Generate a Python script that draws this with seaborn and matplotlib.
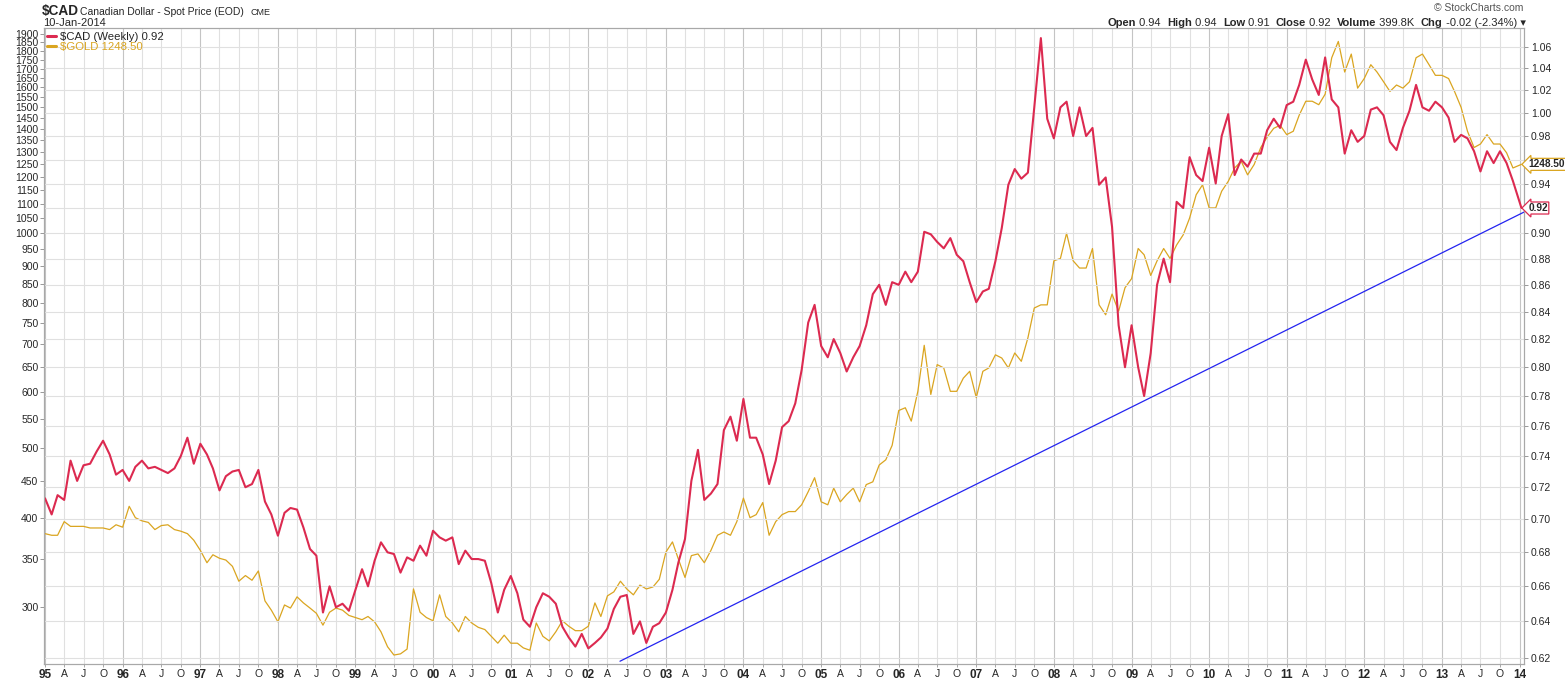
import matplotlib
matplotlib.use("Agg")
import matplotlib.pyplot as plt
import matplotlib.transforms as mtransforms
from matplotlib.lines import Line2D
from matplotlib.ticker import FixedLocator, FuncFormatter, NullLocator
import pandas as pd
import seaborn as sns

# month-start closes (Jan 1995 .. Dec 2013), then the last bar
months = list(pd.date_range("1995-01-01", "2013-12-01", freq="MS")) + [pd.Timestamp("2014-01-10")]

cad_close = [
    0.713, 0.703, 0.715, 0.712, 0.737, 0.724, 0.734, 0.735, 0.743, 0.750, 0.741, 0.728,  # 1995
    0.731, 0.724, 0.733, 0.737, 0.732, 0.733, 0.731, 0.729, 0.732, 0.740, 0.752, 0.735,  # 1996
    0.748, 0.741, 0.732, 0.718, 0.727, 0.730, 0.731, 0.720, 0.722, 0.731, 0.711, 0.703,  # 1997
    0.690, 0.704, 0.707, 0.706, 0.695, 0.682, 0.678, 0.645, 0.660, 0.648, 0.650, 0.646,  # 1998
    0.658, 0.670, 0.660, 0.675, 0.686, 0.680, 0.679, 0.668, 0.677, 0.675, 0.684, 0.678,  # 1999
    0.693, 0.689, 0.687, 0.689, 0.673, 0.681, 0.676, 0.676, 0.675, 0.662, 0.645, 0.658,  # 2000
    0.666, 0.656, 0.641, 0.637, 0.648, 0.656, 0.654, 0.650, 0.637, 0.631, 0.626, 0.633,  # 2001
    0.625, 0.628, 0.631, 0.636, 0.647, 0.654, 0.655, 0.633, 0.640, 0.628, 0.637, 0.639,  # 2002
    0.645, 0.658, 0.674, 0.688, 0.724, 0.744, 0.712, 0.716, 0.722, 0.757, 0.766, 0.750,  # 2003
    0.778, 0.752, 0.752, 0.741, 0.722, 0.737, 0.759, 0.763, 0.775, 0.798, 0.832, 0.845,  # 2004
    0.815, 0.807, 0.820, 0.810, 0.797, 0.807, 0.815, 0.830, 0.853, 0.860, 0.845, 0.862,  # 2005
    0.860, 0.870, 0.862, 0.870, 0.901, 0.899, 0.893, 0.888, 0.896, 0.883, 0.878, 0.862,  # 2006
    0.847, 0.855, 0.857, 0.878, 0.904, 0.939, 0.952, 0.944, 0.949, 1.005, 1.068, 0.995,  # 2007
    0.978, 1.005, 1.010, 0.980, 1.005, 0.980, 0.987, 0.939, 0.945, 0.905, 0.830, 0.800,  # 2008
    0.830, 0.800, 0.780, 0.810, 0.860, 0.880, 0.862, 0.925, 0.920, 0.962, 0.947, 0.942,  # 2009
    0.970, 0.940, 0.980, 0.999, 0.947, 0.960, 0.954, 0.965, 0.965, 0.985, 0.995, 0.987,  # 2010
    1.007, 1.010, 1.025, 1.048, 1.030, 1.016, 1.050, 1.012, 1.005, 0.965, 0.985, 0.975,  # 2011
    0.980, 1.003, 1.005, 0.998, 0.975, 0.968, 0.987, 1.002, 1.025, 1.005, 1.002, 1.010,  # 2012
    1.005, 0.996, 0.975, 0.981, 0.978, 0.967, 0.950, 0.967, 0.957, 0.967, 0.957, 0.942,  # 2013
    0.920,
]

gold_close = [
    380, 378, 378, 395, 389, 389, 389, 387, 387, 387, 385, 391,  # 1995
    388, 415, 400, 396, 394, 385, 390, 391, 385, 383, 380, 372,  # 1996
    360, 346, 355, 351, 349, 342, 326, 332, 327, 337, 306, 297,  # 1997
    286, 302, 299, 310, 304, 299, 294, 283, 295, 299, 297, 292,  # 1998
    290, 288, 291, 286, 277, 264, 257, 258, 262, 318, 295, 290,  # 1999
    287, 312, 291, 285, 277, 291, 285, 281, 279, 273, 267, 274,  # 2000
    267, 267, 263, 261, 285, 273, 269, 277, 287, 282, 278, 278,  # 2001
    282, 304, 291, 311, 315, 326, 318, 312, 322, 318, 320, 328,  # 2002
    358, 370, 350, 330, 354, 356, 346, 360, 378, 382, 378, 395,  # 2003
    426, 400, 404, 420, 378, 395, 404, 408, 408, 417, 435, 455,  # 2004
    421, 417, 440, 421, 431, 440, 421, 445, 449, 474, 482, 505,  # 2005
    565, 570, 546, 601, 697, 595, 655, 648, 601, 601, 627, 641,  # 2006
    589, 641, 648, 676, 669, 648, 680, 662, 714, 786, 794, 794,  # 2007
    915, 922, 1000, 915, 894, 894, 952, 794, 769, 822, 778, 839,  # 2008
    864, 952, 933, 873, 915, 952, 922, 963, 995, 1050, 1132, 1169,  # 2009
    1085, 1085, 1145, 1182, 1234, 1261, 1207, 1248, 1318, 1363, 1402, 1416,  # 2010
    1374, 1389, 1463, 1530, 1530, 1513, 1565, 1760, 1855, 1681, 1781, 1596,  # 2011
    1646, 1721, 1681, 1629, 1579, 1612, 1596, 1629, 1760, 1781, 1721, 1663,  # 2012
    1663, 1646, 1579, 1500, 1389, 1318, 1333, 1374, 1333, 1333, 1296, 1234,  # 2013
    1248.5,
]

# support line drawn on the $CAD scale
trend_dates = [pd.Timestamp("2002-05-30"), pd.Timestamp("2014-01-22")]
trend_values = [0.618, 0.9167]

gold_ticks = list(range(300, 1901, 50))
cad_ticks = [round(0.62 + 0.02 * i, 2) for i in range(23)]
cad_hidden = {0.92, 0.96}  # these labels sit under the last-value tags
year_ticks = pd.date_range("1995-01-01", "2014-01-01", freq="YS")
quarter_ticks = [d for d in pd.date_range("1995-01-01", "2013-12-31", freq="QS") if d.month != 1]
quarter_names = {4: "A", 7: "J", 10: "O"}

RED = "#dc2a50"
GOLD = "#daa520"
BLUE = "#2424f0"
GRID = "#e0e0e0"

sns.set_style("white")
plt.rcParams["font.family"] = ["Liberation Sans", "DejaVu Sans"]

W, H = 1565, 681
fig = plt.figure(figsize=(W / 100, H / 100), dpi=100)
ax = fig.add_axes([44 / W, 17 / H, 1480 / W, 636 / H])
ax2 = ax.twinx()

df = pd.DataFrame({"date": months, "cad": cad_close, "gold": gold_close})
trend = pd.DataFrame({"date": trend_dates, "cad": trend_values})

# gold on the left log axis
sns.lineplot(data=df, x="date", y="gold", ax=ax, color=GOLD, linewidth=0.9, legend=False)
ax.set_yscale("log")
ax.set_ylim(249.7, 1937)
ax.yaxis.set_major_locator(FixedLocator(gold_ticks))
ax.yaxis.set_minor_locator(NullLocator())
ax.yaxis.set_major_formatter(FuncFormatter(lambda v, p: f"{v:.0f}"))
ax.set_xlabel("")
ax.set_ylabel("")

# CAD on the right log axis
sns.lineplot(data=df, x="date", y="cad", ax=ax2, color=RED, linewidth=1.5, legend=False)
sns.lineplot(data=trend, x="date", y="cad", ax=ax2, color=BLUE, linewidth=0.9, legend=False)
ax2.set_yscale("log")
ax2.set_ylim(0.6165, 1.0775)
ax2.yaxis.set_major_locator(FixedLocator(cad_ticks))
ax2.yaxis.set_minor_locator(NullLocator())
ax2.yaxis.set_major_formatter(
    FuncFormatter(lambda v, p: "" if round(v, 2) in cad_hidden else f"{v:.2f}"))
ax2.set_ylabel("")
ax2.grid(axis="y", color=GRID, linewidth=0.8)
ax2.set_axisbelow(True)

ax.set_xlim(pd.Timestamp("1994-12-27"), pd.Timestamp("2014-01-22"))
ax.set_xticks(year_ticks)
ax.set_xticklabels([f"{d.year % 100:02d}" for d in year_ticks], fontweight="bold", fontsize=8.5)
ax.set_xticks(quarter_ticks, minor=True)
ax.set_xticklabels([quarter_names[d.month] for d in quarter_ticks], minor=True, fontsize=7.5)
ax.grid(axis="x", which="major", color="#c4c4c4", linewidth=0.8)
ax.grid(axis="x", which="minor", color=GRID, linewidth=0.8)
ax.tick_params(axis="x", which="both", bottom=True, length=2, width=0.6, color="#999999", pad=1.5)
ax.tick_params(axis="y", left=True, length=3, width=0.6, color="#888888", labelsize=7.5, pad=1)
ax2.tick_params(axis="y", right=True, length=3, width=0.6, color="#888888", labelsize=7.5, pad=2)

for a in (ax, ax2):
    for s in a.spines.values():
        s.set_color("#a8a8a8")
        s.set_linewidth(0.8)

# legend in the upper left corner
handles = [Line2D([], [], color=RED, linewidth=2.2), Line2D([], [], color=GOLD, linewidth=2.2)]
leg = ax2.legend(handles, [r"\$CAD (Weekly) 0.92", r"\$GOLD 1248.50"], loc="upper left",
                 bbox_to_anchor=(0, 0.998), frameon=False, fontsize=8.2, handlelength=0.8,
                 handletextpad=0.35, labelspacing=0.0, borderaxespad=0.15, borderpad=0.1)
leg.get_texts()[1].set_color(GOLD)

# last-value tags on the right edge
gold_y = mtransforms.blended_transform_factory(ax2.transAxes, ax.transData)
ax2.annotate("1248.50", xy=(1.0, gold_close[-1]), xycoords=gold_y, xytext=(3, 0),
             textcoords="offset points", va="center", ha="left", fontsize=7.3, fontweight="bold",
             bbox=dict(boxstyle="larrow,pad=0.1", fc="white", ec=GOLD, lw=0.9),
             annotation_clip=False, zorder=10)
ax2.annotate("0.92", xy=(1.0, cad_close[-1]), xycoords=("axes fraction", "data"), xytext=(3, 0),
             textcoords="offset points", va="center", ha="left", fontsize=7.3, fontweight="bold",
             bbox=dict(boxstyle="larrow,pad=0.1", fc="white", ec=RED, lw=0.9),
             annotation_clip=False, zorder=10)

# header
def px(x, y):
    return x / W, 1 - y / H

fig.text(*px(42, 15), r"\$CAD", fontsize=9.8, fontweight="bold", va="baseline")
fig.text(*px(80, 15), "Canadian Dollar - Spot Price (EOD)", fontsize=7.5, va="baseline")
fig.text(*px(251, 15), "CME", fontsize=6.5, va="baseline")
fig.text(*px(43, 26.5), "10-Jan-2014", fontsize=8, va="baseline")
fig.text(*px(1523, 11), "\u00a9 StockCharts.com", fontsize=7.5, color="#555555", ha="right", va="baseline")

pieces = [("Open", "bold"), (" 0.94  ", "normal"), ("High", "bold"), (" 0.94  ", "normal"),
          ("Low", "bold"), (" 0.91  ", "normal"), ("Close", "bold"), (" 0.92  ", "normal"),
          ("Volume", "bold"), (" 399.8K  ", "normal"), ("Chg", "bold"), (" -0.02 (-2.34%) \u25be", "normal")]
prev = fig.text(*px(1108, 26), pieces[0][0], fontsize=8, fontweight=pieces[0][1], va="baseline")
for txt, weight in pieces[1:]:
    prev = ax.annotate(txt, xy=(1, 0), xycoords=prev, va="bottom", ha="left",
                       fontsize=8, fontweight=weight, annotation_clip=False)

fig.savefig("out.png", dpi=100)
